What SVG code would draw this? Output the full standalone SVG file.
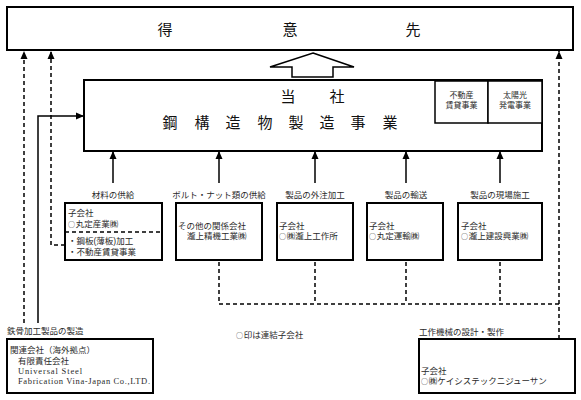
<svg xmlns="http://www.w3.org/2000/svg" width="581" height="400" viewBox="0 0 581 400">
<defs>
<marker id="ah" viewBox="0 0 8 8" refX="8" refY="4" markerWidth="8" markerHeight="8" markerUnits="userSpaceOnUse" orient="auto">
<path d="M0,0.5 L8,4 L0,7.5 Z" fill="#000"/>
</marker>
<style>
.box{fill:#fff;stroke:#000;stroke-width:2}
.sub{fill:#fff;stroke:#000;stroke-width:1.5}
.t{font-family:"Liberation Sans","Noto Sans CJK JP",sans-serif;fill:#2a2a2a}
.s{font-size:8.5px}
.big{font-family:"Noto Sans CJK JP",sans-serif;font-size:15px;fill:#111}
.lat{font-family:"Liberation Serif",serif;font-size:8.5px;fill:#2a2a2a}
.sol{fill:none;stroke:#000;stroke-width:1.5}
.dash{fill:none;stroke:#000;stroke-width:1.5;stroke-dasharray:4 3}
.mid{text-anchor:middle}
.c{font-family:"Noto Sans CJK JP",sans-serif;font-size:7px}
</style>
</defs>
<rect width="581" height="400" fill="#fff"/>

<g id="customer">
<rect class="box" x="7" y="7" width="566" height="43"/>
<text class="big mid" x="165 290 413" y="35">得意先</text>
</g>

<g id="bigarrow">
<polygon points="313,53 354,67 333,67 333,77 292,77 292,67 270,67" fill="#fff" stroke="#000" stroke-width="1.5"/>
</g>

<g id="company">
<rect class="box" x="84" y="80" width="458" height="71"/>
<text class="big mid" x="288 337" y="102">当社</text>
<text class="big mid" x="170 202 233 265 296 327 358 390" y="128">鋼構造物製造事業</text>
</g>

<g id="realestate">
<rect class="sub" x="435" y="81" width="53" height="42"/>
<text class="t mid" style="font-size:8px" x="461.5" y="98">不動産</text>
<text class="t mid" style="font-size:8px" x="461.5" y="108">賃貸事業</text>
</g>

<g id="solar">
<rect class="sub" x="488" y="81" width="54" height="42"/>
<text class="t mid" style="font-size:8px" x="515" y="98">太陽光</text>
<text class="t mid" style="font-size:8px" x="515" y="108">発電事業</text>
</g>

<g id="marusada-sangyo">
<text class="t s mid" x="113" y="198">材料の供給</text>
<rect class="box" x="65" y="203" width="97" height="57"/>
<line class="dash" x1="65" y1="232" x2="162" y2="232"/>
<text class="t s" x="68" y="216">子会社</text>
<text class="t s" x="68" y="226.5"><tspan class="c">○</tspan><tspan dx="0.8">丸定産業㈱</tspan></text>
<text class="t s" x="68" y="243.5">・鋼板(薄板)加工</text>
<text class="t s" x="68" y="254.5">・不動産賃貸事業</text>
</g>

<g id="takigami-seiki">
<text class="t s mid" x="219" y="198">ボルト・ナット類の供給</text>
<rect class="box" x="176" y="203" width="86" height="57"/>
<text class="t s" x="178" y="229">その他の関係会社</text>
<text class="t s" x="187" y="239">瀧上精機工業㈱</text>
</g>

<g id="takigami-kosakusho">
<text class="t s mid" x="315" y="198">製品の外注加工</text>
<rect class="box" x="277" y="203" width="76" height="57"/>
<text class="t s" x="279" y="228.5">子会社</text>
<text class="t s" x="279" y="239"><tspan class="c">○</tspan><tspan dx="0.8">㈱瀧上工作所</tspan></text>
</g>

<g id="marusada-unyu">
<text class="t s mid" x="406" y="198">製品の輸送</text>
<rect class="box" x="367" y="203" width="76" height="57"/>
<text class="t s" x="369" y="228.5">子会社</text>
<text class="t s" x="369" y="239"><tspan class="c">○</tspan><tspan dx="0.8">丸定運輸㈱</tspan></text>
</g>

<g id="takigami-kensetsu">
<text class="t s mid" x="500" y="198">製品の現場施工</text>
<rect class="box" x="458" y="203" width="84" height="57"/>
<text class="t s" x="461" y="228.5">子会社</text>
<text class="t s" x="461" y="239"><tspan class="c">○</tspan><tspan dx="0.8">瀧上建設興業㈱</tspan></text>
</g>

<g id="usv">
<text class="t s" x="7" y="334">鉄骨加工製品の製造</text>
<rect class="box" x="7" y="339" width="146" height="54"/>
<text class="t s" x="10" y="353">関連会社（海外拠点）</text>
<text class="t s" x="18" y="364">有限責任会社</text>
<text class="lat" x="18" y="374" textLength="64" lengthAdjust="spacing">Universal Steel</text>
<text class="lat" x="18" y="384" textLength="132" lengthAdjust="spacing">Fabrication Vina-Japan Co.,LTD.</text>
</g>

<g id="k-systec">
<text class="t s" x="419" y="335">工作機械の設計・製作</text>
<rect class="box" x="419" y="339" width="156" height="54"/>
<text class="t s" x="421" y="373.5">子会社</text>
<text class="t s" x="421" y="384"><tspan class="c">○</tspan><tspan dx="0.8">㈱ケイシステックニジューサン</tspan></text>
</g>

<g id="note">
<text class="t s" x="236" y="338"><tspan class="c">○</tspan><tspan dx="0.8">印は連結子会社</tspan></text>
</g>

<g id="connectors">
<line class="sol" x1="113" y1="183" x2="113" y2="151" marker-end="url(#ah)"/>
<line class="sol" x1="219" y1="183" x2="219" y2="151" marker-end="url(#ah)"/>
<line class="sol" x1="315" y1="183" x2="315" y2="151" marker-end="url(#ah)"/>
<line class="sol" x1="406" y1="183" x2="406" y2="151" marker-end="url(#ah)"/>
<line class="sol" x1="500" y1="183" x2="500" y2="151" marker-end="url(#ah)"/>
<polyline class="sol" points="38,323 38,116 84,116" marker-end="url(#ah)"/>
<line class="dash" x1="24" y1="323" x2="24" y2="51" marker-end="url(#ah)"/>
<polyline class="dash" points="65,245 51,245 51,51" marker-end="url(#ah)"/>
<polyline class="dash" points="219,262 219,304 559,304"/>
<line class="dash" x1="315" y1="262" x2="315" y2="304"/>
<line class="dash" x1="406" y1="262" x2="406" y2="304"/>
<line class="dash" x1="500" y1="262" x2="500" y2="304"/>
<line class="dash" x1="559" y1="339" x2="559" y2="51" marker-end="url(#ah)"/>
</g>
</svg>
